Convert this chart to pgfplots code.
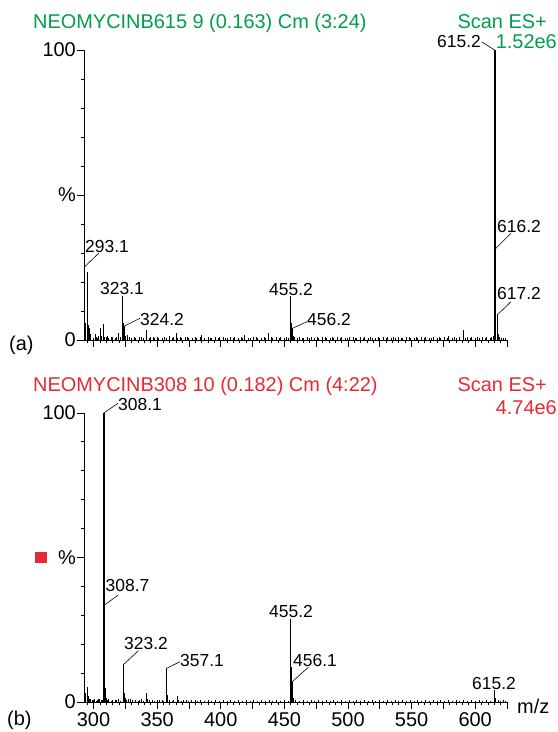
\documentclass[border=0pt]{standalone}
\usepackage{fontspec}
\setmainfont{Liberation Sans}
\usepackage{pgfplots}
\pgfplotsset{compat=1.18}
\definecolor{mygreen}{RGB}{0,158,73}
\definecolor{myred}{RGB}{232,40,50}
\newcommand\hdr{\fontsize{20}{24}\selectfont}
\newcommand\lab{\fontsize{17.5}{21}\selectfont}
\pgfplotsset{
  spec/.style={
    scale only axis, width=423bp,
    xmin=292.5, xmax=625, ymin=0, ymax=100,
    axis x line*=bottom, axis y line*=left,
    tick align=outside,
    xtick={300,325,...,625},
    minor xtick={295,300,...,620},
    ytick={0,50,100}, yticklabels={0,\%,100},
    minor ytick={10,20,...,90},
    major tick length=7bp, minor tick length=3.5bp,
    every tick/.style={black, line width=0.8bp},
    axis line style={black, line width=0.8bp},
    ticklabel style={font=\hdr},
    yticklabel style={inner sep=1bp},
    clip=false,
  },
  stick/.style={ycomb, black, line width=1.0bp, mark=none},
  bigstick/.style={ycomb, black, line width=2.2bp, mark=none},
}
\begin{document}
\begin{tikzpicture}[x=1bp,y=1bp]
\useasboundingbox (0,0) rectangle (558,732);
% ---------- top panel ----------
\begin{axis}[spec, height=290bp, at={(84bp,392bp)}, anchor=south west, xticklabels={}]
\addplot[bigstick] coordinates {(615.3,100)};
\addplot[stick] coordinates {
(293.1,25.3) (293.6,6) (295.0,23.5) (295.8,5) (296.5,4) (297.3,2)
(301.6,2) (304,1.5) (305.5,4) (308,5.5) (310,1.2) (314,1) (319.7,2.5)
(323.1,15.2) (323.4,6) (324.2,4.8) (325.5,1.5) (328,1) (341.6,3.4) (347,1)
(365.5,2.3) (385,1.7) (402,1.2) (419,1.7) (437.2,2.5)
(455.2,15) (455.6,6) (456.2,4) (457,1.5)
(591,3.4) (614.5,1.5) (615.2,100) (616.2,31.6) (617.2,8.6) (618.2,2)
};
\addplot[stick] coordinates {
(297,1.2) (300,0.8) (302,1.0) (303,0.6) (306,1.5) (309,0.9) (311,1.3) (312,0.7)
(315,1.1) (317,0.6) (318,0.9) (321,1.0) (327,1.6) (330,0.8) (332,1.0) (333,0.6)
(336,0.9) (338,1.2) (339,0.7) (344,0.8) (345,1.0) (348,0.7) (350,1.2) (351,0.6)
(354,0.8) (356,1.0) (357,0.7) (360,1.3) (362,0.8) (363,1.0) (366,0.8) (368,1.1)
(369,0.6) (372,0.9) (374,1.2) (375,0.7) (378,0.8) (380,1.0) (381,0.6) (384,0.9)
(387,0.7) (390,1.0) (392,0.6) (393,0.8) (396,1.1) (398,0.7) (399,0.9) (404,0.6)
(405,0.8) (408,1.0) (410,0.7) (411,0.9) (414,0.6) (416,1.0) (417,0.7) (422,0.8)
(423,0.6) (426,0.9) (428,1.1) (429,0.6) (432,0.8) (434,1.0) (435,0.7) (440,0.9)
(441,0.6) (444,1.0) (446,0.7) (447,0.9) (450,0.8) (452,1.1) (453,0.6) (458,0.9)
(460,0.7) (462,1.0) (464,0.6) (465,0.8) (468,1.1) (470,0.7) (471,0.9) (474,0.6)
(476,1.0) (477,0.7) (480,0.9) (482,1.2) (483,0.6) (486,0.8) (488,1.0) (489,0.6)
(492,0.9) (494,0.7) (495,1.1) (498,0.8) (500,0.6) (501,0.9) (504,1.0) (506,0.7)
(507,0.8) (510,1.1) (512,0.6) (513,0.9) (516,0.7) (518,1.0) (519,0.6) (522,0.8)
(524,1.2) (525,0.7) (528,0.9) (530,0.6) (531,1.0) (534,0.7) (536,0.9) (537,0.6)
(540,1.1) (542,0.8) (543,0.6) (546,0.9) (548,1.0) (549,0.7) (552,0.8) (554,1.2)
(555,0.6) (558,0.9) (560,0.7) (561,1.0) (564,0.8) (566,0.6) (567,1.1) (570,0.7)
(572,0.9) (573,0.6) (576,1.0) (578,0.8) (579,1.3) (582,0.7) (584,0.9) (585,0.6)
(588,1.0) (592,0.8) (594,0.9) (596,0.6) (597,1.0) (600,0.8) (602,1.1) (603,0.6)
(606,0.9) (608,0.7) (609,1.0) (612,0.8) (613,1.2) (619,1.0) (621,0.6) (622,0.8) (624,0.6)
};
\coordinate (t615) at (axis cs:615.2,100);
\coordinate (t293) at (axis cs:293.1,25.3);
\coordinate (t324) at (axis cs:324.2,4.8);
\coordinate (t456) at (axis cs:456.2,4);
\coordinate (t616) at (axis cs:616.2,31.6);
\coordinate (t617) at (axis cs:617.2,8.6);
\end{axis}
% ---------- bottom panel ----------
\begin{axis}[spec, height=289bp, at={(84bp,30bp)}, anchor=south west,
  xticklabels={300,,350,,400,,450,,500,,550,,600,}]
\addplot[bigstick] coordinates {(308.2,100)};
\addplot[stick] coordinates {
(293.0,9.3) (293.6,3) (295.1,5.3) (296,2) (298,1.2) (301,1.0) (303,0.8) (305,1.0)
(308.1,100) (308.7,33.6) (309.5,5) (310.2,1.5)
(318,0.8) (323.2,12.8) (323.6,5) (324.2,3) (325.5,1.5) (327.5,1) (329,1.2)
(341.3,3) (342.3,1) (357.2,11.6) (357.6,4) (358.2,2.5)
(365.6,2) (371,0.8) (380,0.7)
(455.2,28.6) (455.6,12) (456.1,7) (457.1,1.5)
(615.2,4.2) (616.2,1.3)
};
\addplot[stick] coordinates {
(297,0.9) (299,0.6) (300,0.8) (302,0.5) (304,0.9) (306,0.6) (307,0.8) (311,0.7)
(312,0.9) (314,0.5) (315,0.8) (317,0.6) (320,0.9) (321,0.5) (326,0.8) (331,0.6)
(333,0.8) (335,0.5) (336,0.7) (338,0.9) (339,0.5) (344,0.6) (346,0.8) (348,0.5)
(350,0.7) (352,0.6) (354,0.8) (355,0.5) (360,0.7) (362,0.5) (363,0.8) (367,0.6)
(369,0.5) (373,0.7) (375,0.5) (377,0.6) (382,0.5) (384,0.7) (387,0.5) (390,0.6)
(393,0.5) (396,0.7) (399,0.5) (402,0.6) (405,0.5) (408,0.7) (411,0.5) (414,0.6)
(417,0.5) (420,0.7) (423,0.5) (426,0.6) (429,0.5) (432,0.7) (435,0.5) (438,0.6)
(441,0.5) (444,0.7) (447,0.5) (450,0.6) (453,0.5) (459,0.6) (462,0.5) (465,0.6)
(468,0.5) (471,0.6) (474,0.4) (477,0.6) (480,0.5) (483,0.6) (486,0.4) (489,0.6)
(492,0.5) (495,0.6) (498,0.4) (501,0.6) (504,0.5) (507,0.6) (510,0.4) (513,0.6)
(516,0.5) (519,0.6) (522,0.4) (525,0.6) (528,0.5) (531,0.6) (534,0.4) (537,0.6)
(540,0.5) (543,0.6) (546,0.4) (549,0.6) (552,0.5) (555,0.6) (558,0.4) (561,0.6)
(564,0.5) (567,0.6) (570,0.4) (573,0.6) (576,0.5) (579,0.6) (582,0.4) (585,0.6)
(588,0.5) (591,0.7) (594,0.5) (597,0.6) (600,0.4) (603,0.6) (606,0.5) (609,0.6)
(612,0.5) (618,0.6) (620,0.4) (622,0.6) (624,0.5)
};
\coordinate (b308) at (axis cs:308.1,100);
\coordinate (b3087) at (axis cs:308.7,33.6);
\coordinate (b323) at (axis cs:323.2,12.8);
\coordinate (b357) at (axis cs:357.2,11.6);
\coordinate (b456) at (axis cs:456.1,7);
\end{axis}
% ---------- annotations ----------
\begin{scope}[every node/.style={inner sep=0pt}]
% headers
\node[anchor=base west, text=mygreen, font=\hdr] at (33,703.7) {NEOMYCINB615 9 (0.163) Cm (3:24)};
\node[anchor=base east, text=mygreen, font=\hdr] at (547,703.7) {Scan ES+};
\node[anchor=base east, text=mygreen, font=\hdr] at (557,683.7) {1.52e6};
\node[anchor=base west, text=myred, font=\hdr] at (33,340.3) {NEOMYCINB308 10 (0.182) Cm (4:22)};
\node[anchor=base east, text=myred, font=\hdr] at (547,340.3) {Scan ES+};
\node[anchor=base east, text=myred, font=\hdr] at (557,317) {4.74e6};
\node[anchor=base west, font=\hdr] at (9,381) {(a)};
\node[anchor=base west, font=\hdr] at (7,6) {(b)};
\node[anchor=base west, font=\hdr] at (517,18) {m/z};
\fill[myred] (35,169) rectangle (47,180);
% top peak labels
\draw[line width=0.6bp] (t615) -- (482,690);
\node[anchor=east, font=\lab] at (481,690) {615.2};
\draw[line width=0.6bp] (t293) -- (99,479);
\node[anchor=base, font=\lab] at (107,479.5) {293.1};
\node[anchor=base, font=\lab] at (122,437.5) {323.1};
\draw[line width=0.6bp] (t324) -- (140,413.7);
\node[anchor=west, font=\lab] at (140,412.5) {324.2};
\node[anchor=base, font=\lab] at (291,436.5) {455.2};
\draw[line width=0.6bp] (t456) -- (307,410.3);
\node[anchor=west, font=\lab] at (307,412) {456.2};
\draw[line width=0.6bp] (t616) -- (511,498.7);
\node[anchor=base, font=\lab] at (519,499.5) {616.2};
\draw[line width=0.6bp] (t617) -- (511,430.3);
\node[anchor=base, font=\lab] at (519,432) {617.2};
% bottom peak labels
\draw[line width=0.6bp] (b308) -- (118,328.7);
\node[anchor=west, font=\lab] at (118,327) {308.1};
\draw[line width=0.6bp] (b3087) -- (118.3,137);
\node[anchor=base, font=\lab] at (127.5,140.5) {308.7};
\draw[line width=0.6bp] (b323) -- (138.3,81.3);
\node[anchor=base, font=\lab] at (146,82.5) {323.2};
\draw[line width=0.6bp] (b357) -- (180,70.3);
\node[anchor=west, font=\lab] at (180,72) {357.1};
\node[anchor=base, font=\lab] at (291,114.5) {455.2};
\draw[line width=0.6bp] (b456) -- (308.3,64.7);
\node[anchor=base, font=\lab] at (315,65.5) {456.1};
\node[anchor=base, font=\lab] at (494,42.5) {615.2};
\end{scope}
\end{tikzpicture}
\end{document}
